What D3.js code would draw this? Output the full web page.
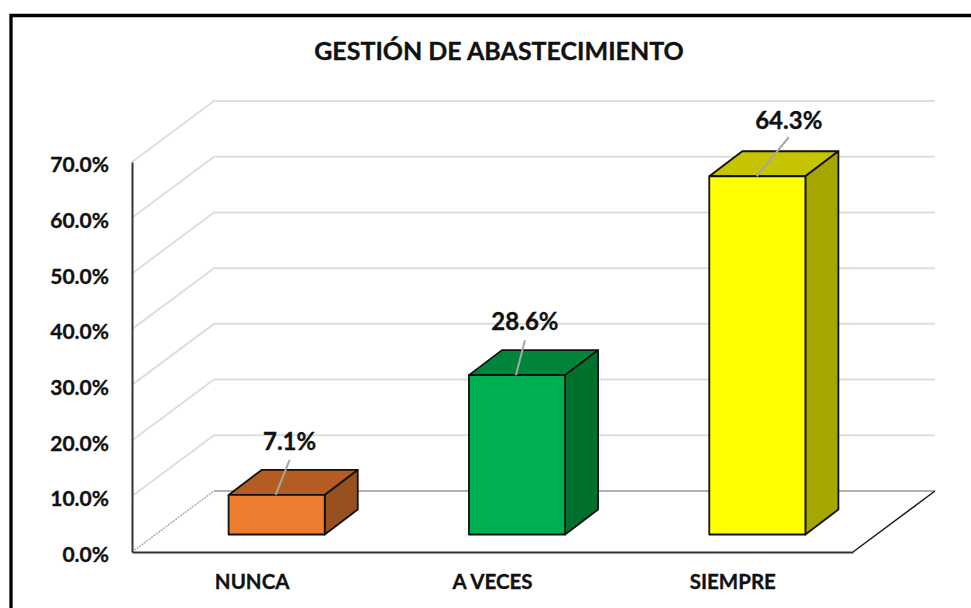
<!DOCTYPE html>
<html>
<head>
<meta charset="utf-8">
<script src="https://cdn.jsdelivr.net/npm/d3@7"></script>
<style>
  html, body { margin: 0; padding: 0; background: #fff; }
  svg { display: block; }
  text { font-family: Lato, "Open Sans", sans-serif; font-weight: 700; fill: #111; stroke: #111; stroke-width: 0.35px; }
</style>
</head>
<body>
<div id="chart"></div>
<script>
const categories = ['NUNCA', 'A VECES', 'SIEMPRE'];
const values = [7.1, 28.6, 64.3];
const yTicks = [0, 10, 20, 30, 40, 50, 60, 70];
const frontColors = ['#ed7d31', '#00b050', '#ffff00'];
const topColors = ['#b45c22', '#00843c', '#c4c400'];
const sideColors = ['#99501f', '#00702f', '#a6a600'];
const chartTitle = 'GESTIÓN DE ABASTECIMIENTO';

const width = 971;
const height = 608;
const plot = { left: 132, right: 853, top: 162, bottom: 552 };
const depth = { x: 82, y: -61 };
// how far the bars sit in from the front of the floor, and how deep they are
const barInset = { x: 24.5, y: -17.5 };
const barDepth = { x: 33, y: -25 };
// leader end (relative to the bar top) and label position, read per bar
const leaders = [
  { from: 47, x: 14, y: -35, labelY: -10 },
  { from: 47, x: 9, y: -35, labelY: -10 },
  { from: 47.5, x: 32, y: -39, labelY: -8 }
];

const svg = d3.select('#chart').append('svg')
  .attr('width', width)
  .attr('height', height);

const x = d3.scaleBand().domain(categories).range([plot.left, plot.right]).paddingInner(0.6).paddingOuter(0.3);
const y = d3.scaleLinear().domain([0, 70]).range([plot.bottom, plot.top]);

// frame, cut off by the right and bottom of the picture
svg.append('path')
  .attr('d', `M${width},15.5 H11 V${height}`)
  .attr('fill', 'none')
  .attr('stroke', '#000')
  .attr('stroke-width', 3.3);

svg.append('text')
  .attr('x', 499)
  .attr('y', 60)
  .attr('text-anchor', 'middle')
  .attr('font-size', 25)
  .text(chartTitle);

// walls
const grid = svg.append('g').attr('class', 'grid');
yTicks.filter(d => d > 0).forEach(d => {
  grid.append('path')
    .attr('d', `M${plot.left},${y(d)} l${depth.x},${depth.y} H${plot.right + depth.x}`)
    .attr('fill', 'none')
    .attr('stroke', '#dedede')
    .attr('stroke-width', 2);
});

// floor
grid.append('line')
  .attr('x1', plot.left).attr('y1', y(0))
  .attr('x2', plot.left + depth.x).attr('y2', y(0) + depth.y)
  .attr('stroke', '#b0b0b0')
  .attr('stroke-width', 1.6)
  .attr('stroke-dasharray', '2 1');
grid.append('line')
  .attr('x1', plot.left + depth.x).attr('y1', y(0) + depth.y)
  .attr('x2', plot.right + depth.x).attr('y2', y(0) + depth.y)
  .attr('stroke', '#b0b0b0')
  .attr('stroke-width', 2);
grid.append('line')
  .attr('x1', plot.right).attr('y1', y(0))
  .attr('x2', plot.right + depth.x).attr('y2', y(0) + depth.y)
  .attr('stroke', '#1a1a1a')
  .attr('stroke-width', 1.5);

// axes
const yAxis = svg.append('g')
  .attr('transform', `translate(${plot.left},0)`)
  .call(d3.axisLeft(y).tickValues(yTicks).tickSize(0).tickPadding(23).tickFormat(d => d.toFixed(1) + '%'));
yAxis.select('.domain').attr('stroke', '#333').attr('stroke-width', 2);
yAxis.selectAll('text').attr('font-size', 21).attr('dy', '0.46em').attr('fill', null);
yAxis.attr('font-family', null).attr('font-size', null);

const xAxis = svg.append('g')
  .attr('transform', `translate(0,${plot.bottom})`)
  .call(d3.axisBottom(d3.scaleBand().domain(categories).range([plot.left, plot.right])).tickSize(0).tickPadding(22));
xAxis.select('.domain').attr('stroke', '#333').attr('stroke-width', 2);
xAxis.selectAll('text').attr('font-size', 20.5).attr('fill', null);
xAxis.attr('font-family', null).attr('font-size', null);

// bars
const bars = svg.append('g').attr('class', 'bars')
  .selectAll('g')
  .data(values)
  .join('g');

const barBase = y(0) + barInset.y;
const barTop = d => barBase - (y(0) - y(d));
const barLeft = i => x(categories[i]) + barInset.x;

bars.append('path')
  .attr('d', (d, i) => `M${barLeft(i)},${barTop(d)} l${barDepth.x},${barDepth.y} h${x.bandwidth()} l${-barDepth.x},${-barDepth.y} Z`)
  .attr('fill', (d, i) => topColors[i]);
bars.append('path')
  .attr('d', (d, i) => `M${barLeft(i) + x.bandwidth()},${barTop(d)} l${barDepth.x},${barDepth.y} V${barBase + barDepth.y} l${-barDepth.x},${-barDepth.y} Z`)
  .attr('fill', (d, i) => sideColors[i]);
bars.append('rect')
  .attr('x', (d, i) => barLeft(i))
  .attr('y', d => barTop(d))
  .attr('width', x.bandwidth())
  .attr('height', d => barBase - barTop(d))
  .attr('fill', (d, i) => frontColors[i]);
bars.selectAll('path, rect')
  .attr('stroke', '#111')
  .attr('stroke-width', 1.8)
  .attr('stroke-linejoin', 'round');

// leader lines and labels
bars.append('line')
  .attr('x1', (d, i) => barLeft(i) + leaders[i].from)
  .attr('y1', d => barTop(d))
  .attr('x2', (d, i) => barLeft(i) + leaders[i].from + leaders[i].x)
  .attr('y2', (d, i) => barTop(d) + leaders[i].y)
  .attr('stroke', '#a6a6a6')
  .attr('stroke-width', 2);
bars.append('text')
  .attr('x', (d, i) => barLeft(i) + leaders[i].from + leaders[i].x)
  .attr('y', (d, i) => barTop(d) + leaders[i].y + leaders[i].labelY)
  .attr('text-anchor', 'middle')
  .attr('font-size', 24)
  .text(d => d.toFixed(1) + '%');
</script>
</body>
</html>
